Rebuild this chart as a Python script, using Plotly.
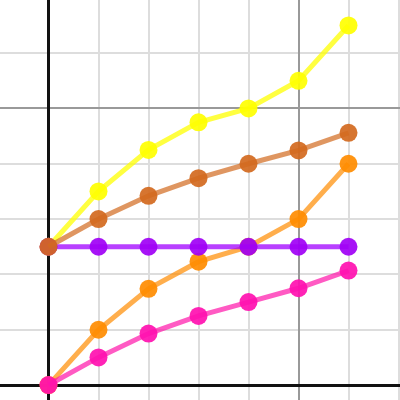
import plotly.graph_objects as go

x_vals = [0, 1, 2, 3, 4, 5, 6]
yellow = [2.5, 3.5, 4.25, 4.75, 5.0, 5.5, 6.5]
brown = [2.5, 3.0, 3.42, 3.74, 4.0, 4.24, 4.56]
orange = [0, 1.0, 1.74, 2.23, 2.5, 3.0, 4.0]
purple = [2.5, 2.5, 2.5, 2.5, 2.5, 2.5, 2.5]
pink = [0, 0.5, 0.93, 1.25, 1.5, 1.75, 2.07]

series = [
    ("yellow", yellow, "rgba(255,255,0,0.75)", "#ffff00"),
    ("orange", orange, "rgba(255,140,0,0.7)", "#ff8c00"),
    ("pink", pink, "rgba(255,20,170,0.7)", "#ff10b0"),
    ("purple", purple, "rgba(160,0,255,0.75)", "#a000f5"),
    ("brown", brown, "rgba(210,105,30,0.7)", "#d2691e"),
]

fig = go.Figure()
for name, ys, lc, mc in series:
    fig.add_trace(go.Scatter(
        x=x_vals, y=ys, mode="lines+markers", name=name,
        line=dict(color=lc, width=5),
        marker=dict(color=mc, size=18, opacity=0.92),
    ))

axis_common = dict(
    showticklabels=False, ticks="", tick0=0, dtick=5,
    showgrid=True, gridcolor="#999999", gridwidth=2,
    zeroline=True, zerolinecolor="#111111", zerolinewidth=3,
    showline=False,
    minor=dict(dtick=1, tick0=0, showgrid=True, gridcolor="#dddddd", gridwidth=2),
)

fig.update_layout(
    width=400, height=400,
    margin=dict(l=0, r=0, t=0, b=0),
    showlegend=False,
    plot_bgcolor="white", paper_bgcolor="white",
    xaxis=dict(range=[-0.97, 7.03], **axis_common),
    yaxis=dict(range=[-0.27, 6.96], **axis_common),
)

fig.write_html("out.html", config={"displayModeBar": False},
               post_script="document.body.style.margin='0';")
